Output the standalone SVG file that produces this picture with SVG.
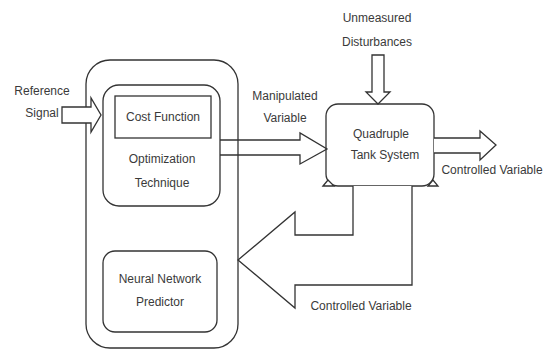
<svg xmlns="http://www.w3.org/2000/svg" width="548" height="350" viewBox="0 0 548 350">
<style>
.box{fill:#fff;stroke:#333;stroke-width:1.3}
.arr{fill:#fff;stroke:#333;stroke-width:1.3;stroke-linejoin:miter}
.arrn{fill:none;stroke:#333;stroke-width:1.3;stroke-linejoin:miter}
text{font-family:"Liberation Sans",Arial,sans-serif;font-size:12px;fill:#3a3a3a;text-anchor:middle}
</style>
<rect width="548" height="350" fill="#fff"/>
<g id="controller">
<rect class="box" x="86" y="60" width="152" height="288" rx="24"/>
</g>
<g id="optimization">
<rect class="box" x="103" y="85" width="117" height="121" rx="16"/>
<text x="162" y="163">Optimization</text>
<text x="162" y="187">Technique</text>
</g>
<g id="cost-function">
<rect class="box" x="115" y="96" width="96" height="42"/>
<text x="163" y="121">Cost Function</text>
</g>
<g id="nn-predictor">
<rect class="box" x="103" y="251" width="114" height="81" rx="12"/>
<text x="160" y="283">Neural Network</text>
<text x="160" y="306">Predictor</text>
</g>
<g id="tank">
<rect class="box" x="326" y="104" width="108" height="82" rx="12"/>
<path class="box" d="M323,186 L328,180 L334,186 Z"/>
<path class="box" d="M428,186 L433,180 L438,186 Z"/>
<text x="381" y="138">Quadruple</text>
<text x="385" y="159">Tank System</text>
</g>
<g id="connectors">
<path class="arr" d="M62,107 H91 V98 L101,115 L91,132 V123 H62 Z"/>
<path class="arrn" d="M220,140 H300 V133 L327,149 L300,164 V155 H220"/>
<path class="arr" d="M372,55 H384 V92 H390 L378,104 L366,92 H372 Z"/>
<path class="arr" d="M434,138 H480 V131 L496,145 L480,160 V153 H434"/>
<path class="arr" d="M353,186 V235 H295 V212 L238,260 L295,308 V285 H412 V186"/>
</g>
<g id="labels">
<text x="42" y="95">Reference</text>
<text x="42" y="117">Signal</text>
<text x="285" y="100">Manipulated</text>
<text x="285" y="122">Variable</text>
<text x="377" y="22">Unmeasured</text>
<text x="377" y="46">Disturbances</text>
<text x="492" y="174">Controlled Variable</text>
<text x="361" y="310">Controlled Variable</text>
</g>
</svg>
